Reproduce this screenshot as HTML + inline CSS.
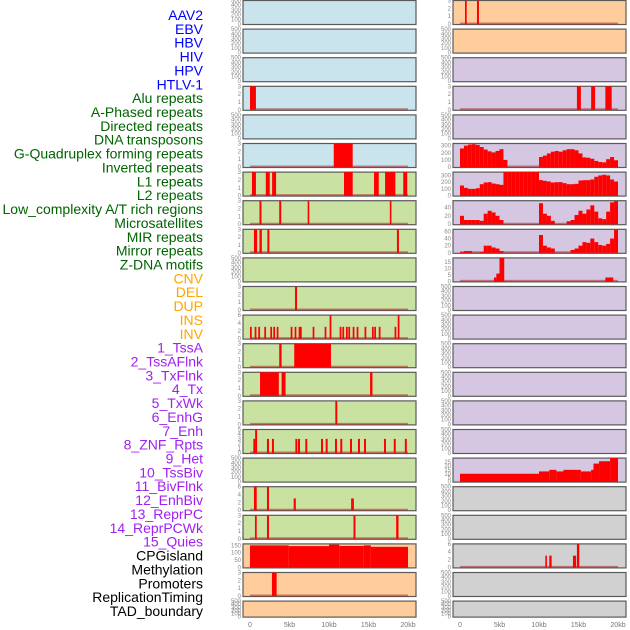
<!DOCTYPE html>
<html><head><meta charset="utf-8">
<style>
html,body{margin:0;padding:0;background:#fff;}
svg{display:block;font-family:"Liberation Sans",sans-serif;}
</style></head>
<body>
<svg id="chart" width="630" height="630" viewBox="0 0 630 630" xmlns="http://www.w3.org/2000/svg"></svg>
<script>
// ---- data (kb positions, heights) ----
const labels = ["AAV2","EBV","HBV","HIV","HPV","HTLV-1","Alu repeats","A-Phased repeats","Directed repeats","DNA transposons","G-Quadruplex forming repeats","Inverted repeats","L1 repeats","L2 repeats","Low_complexity A/T rich regions","Microsatellites","MIR repeats","Mirror repeats","Z-DNA motifs","CNV","DEL","DUP","INS","INV","1_TssA","2_TssAFlnk","3_TxFlnk","4_Tx","5_TxWk","6_EnhG","7_Enh","8_ZNF_Rpts","9_Het","10_TssBiv","11_BivFlnk","12_EnhBiv","13_ReprPC","14_ReprPCWk","15_Quies","CPGisland","Methylation","Promoters","ReplicationTiming","TAD_boundary"];
const labelColors = ["b","b","b","b","b","b","g","g","g","g","g","g","g","g","g","g","g","g","g","o","o","o","o","o","p","p","p","p","p","p","p","p","p","p","p","p","p","p","p","k","k","k","k","k"];
const xTicks = [0,5,10,15,20];
const xTickLabels = ["0","5kb","10kb","15kb","20kb"];

// left column bar tracks: [startKb, endKb, height]
const L_alu = [[0,0.75,3]];
const L_gquad = [[10.6,13.0,3]];
const L_l1 = [[0.25,0.75,3],[2.0,2.5,3],[2.8,3.3,3],[11.9,13.0,3],[15.7,16.3,3],[17.1,18.4,3],[19.4,19.9,3]];
const L_low = [[1.2,1.45,3],[3.7,3.95,3],[7.3,7.5,3],[17.7,17.9,3]];
const L_mir = [[0.5,0.9,3],[1.2,1.5,3],[2.2,2.45,3],[18.6,18.85,3]];
const L_del = [[5.7,5.95,3]];
const L_insPos = [0,0.59,1.05,1.81,2.57,2.95,3.38,5.15,5.65,6.16,6.33,7.93,9.45,10.08,11.35,11.69,12.15,12.45,13.0,13.5,14.5,15.44,15.73,16.3,18.3,18.7];
const L_insVal = [3,3,3,3,3,3,3,3,3,3,3,3,3,6,3,3,3,3,3,3,3,3,3,3,3,6];
const L_tss = [[3.7,4.0,3],[5.6,10.25,3]];
const L_txf = [[1.27,3.65,3],[4.0,4.5,3],[15.2,15.5,3]];
const L_txwk = [[10.8,11.05,3]];
const L_enhPos = [0.42,0.65,2.15,2.78,5.74,6.08,7.0,8.99,9.58,10.76,11.43,12.66,13.67,14.43,16.96,18.2,19.6];
const L_enhVal = [3,5,3,3,3,3,3,3,3,3,3,3,3,3,3,3,3];
const L_biv = [[0.5,0.85,6],[2.15,2.4,6],[5.53,5.8,3],[12.8,13.15,3]];
const L_repr = [[0.63,0.85,3],[2.15,2.4,3],[13.1,13.35,3],[18.5,18.8,3]];
const L_cpg = [[0,4.9,150],[4.9,10.0,145],[10.0,11.3,155],[11.3,14.4,146],[14.4,15.3,150],[15.3,20,140]];
const L_prom = [[2.78,3.37,3]];

// right column
const R_aav2 = [[0.63,0.85,3],[2.15,2.4,3]];
const R_alu = [[14.8,15.3,3],[16.6,17.1,3],[18.4,19.2,3]];
const R_gquad = [260,300,315,320,310,280,245,220,205,225,250,100,0,0,0,0,0,0,0,0,140,160,190,215,225,215,235,250,250,235,190,135,130,115,85,70,65,110,140,95];
const R_l1 = [150,115,100,100,110,170,195,200,180,170,160,350,350,350,350,350,350,350,350,350,230,220,210,195,200,200,185,170,170,175,225,230,230,240,280,300,310,300,240,210];
const R_low = [20,10,10,10,10,8,25,32,28,20,10,0,0,0,0,0,0,0,0,0,50,25,20,8,0,0,0,7,10,22,32,25,35,45,30,14,12,30,52,55];
const R_mir = [2,5,5,0,0,2,20,20,15,12,5,0,0,0,0,0,0,0,0,0,50,20,15,12,0,0,0,0,8,12,20,30,28,40,30,22,20,25,40,65];
const R_zdna = [[4.3,4.6,3],[4.6,5.0,6],[5.0,5.6,18],[18.4,19.4,3]];
const R_het = [[0,10,10],[10,11.3,13],[11.3,12.2,15],[12.2,13.1,13],[13.1,15.3,15],[15.3,16.6,13],[16.6,16.9,15],[16.9,17.6,23],[17.6,19,26],[19,20,30]];
const R_cpg = [[10.8,11.0,3],[11.3,11.6,3],[14.3,14.7,3],[14.8,15.1,6]];

const C = {blue:"#c9e4ec",green:"#c9e1a1",peach:"#ffcd9c",purple:"#d5c6e1",gray:"#d1d1d1"};
const E = "e";
const leftPanels = [
 [C.blue,E],[C.blue,E],[C.blue,E],
 [C.blue,"b",L_alu,3,[0,1,2,3]],[C.blue,E],
 [C.blue,"b",L_gquad,3,[0,1,2,3]],
 [C.green,"b",L_l1,3,[0,1,2,3]],
 [C.green,"b",L_low,3,[0,1,2,3]],
 [C.green,"b",L_mir,3,[0,1,2,3]],
 [C.green,E],
 [C.green,"b",L_del,3,[0,1,2,3]],
 [C.green,"s",[L_insPos,L_insVal,0.22],6,[0,2,4,6]],
 [C.green,"b",L_tss,3,[0,1,2,3]],
 [C.green,"b",L_txf,3,[0,1,2,3]],
 [C.green,"b",L_txwk,3,[0,1,2,3]],
 [C.green,"s",[L_enhPos,L_enhVal,0.25],5,[0,1,2,3,4,5]],
 [C.green,E],
 [C.green,"b",L_biv,6,[0,2,4,6]],
 [C.green,"b",L_repr,3,[0,1,2,3]],
 [C.peach,"b",L_cpg,160,[0,50,100,150]],
 [C.peach,"b",L_prom,3,[0,1,2,3]],
 [C.peach,E]
];
const rightPanels = [
 [C.peach,"b",R_aav2,3,[0,1,2,3]],[C.peach,E],
 [C.purple,E],[C.purple,"b",R_alu,3,[0,1,2,3]],[C.purple,E],
 [C.purple,"p",R_gquad,330,[0,100,200,300]],
 [C.purple,"p",R_l1,350,[0,100,200,300]],
 [C.purple,"p",R_low,56,[0,20,40]],
 [C.purple,"p",R_mir,66,[0,20,40,60]],
 [C.purple,"b",R_zdna,18,[0,5,10,15]],
 [C.purple,E],[C.purple,E],[C.purple,E],[C.purple,E],[C.purple,E],[C.purple,E],
 [C.purple,"b",R_het,30,[0,5,10,15,20,25]],
 [C.gray,E],[C.gray,E],
 [C.gray,"b",R_cpg,6,[0,2,4,6]],
 [C.gray,E],[C.gray,E]
];

const svg = document.getElementById('chart');
const NS = "http://www.w3.org/2000/svg";
function mk(tag, attrs, parent){const e=document.createElementNS(NS,tag);for(const k in attrs)e.setAttribute(k,attrs[k]);(parent||svg).appendChild(e);return e;}
const lc = {b:"#0000ff",g:"#006400",o:"#ffa500",p:"#a020f0",k:"#000000"};

labels.forEach((t,i)=>{
  const el = mk('text',{x:203,y:15+i*13.86+5,'text-anchor':'end','font-size':'14',fill:lc[labelColors[i]]});
  el.textContent = t;
  
  
});

function drawCol(panels, px, x0){
  const sx = kb => x0 + kb*7.9;
  panels.forEach((p,i)=>{
    const top = i*28.6, h = (i===21)?16:24, bot = top+h;
    const g = mk('g',{});
    
    
    mk('rect',{x:px,y:top+0.5,width:173,height:h,fill:p[0],stroke:"#5a5a5a",'stroke-width':1.2},g);
    let ymax=500, ticks=[0,100,200,300,400,500];
    if(p[1]!=="e"){ymax=p[3];ticks=p[4];}
    const sy = v => bot - v/ymax*(h-0.5);
    ticks.forEach(v=>{
      const t = mk('text',{x:px-2,y:sy(v)+2,'text-anchor':'end','font-size':'6',fill:"#888"},g);
      t.textContent = v;
      
      
    });
    if(p[1]==="e") return;
    mk('line',{x1:sx(0),x2:sx(20),y1:bot-0.5,y2:bot-0.5,stroke:"rgba(170,40,40,0.55)",'stroke-width':2},g);
    const bar=(a,b,v)=>{
      const r = mk('rect',{x:sx(a),y:sy(v),width:Math.max(1.5,sx(b)-sx(a)),height:bot-sy(v),fill:"#ff0000"},g);
      
      
    };
    if(p[1]==="b") p[2].forEach(d=>bar(d[0],d[1],d[2]));
    else if(p[1]==="s"){const [pos,val,w]=p[2];pos.forEach((k,j)=>bar(k,k+w,val[j]));}
    else if(p[1]==="p") p[2].forEach((v,j)=>{ if(v>0) bar(j*0.5,j*0.5+0.5,v); });
  });
  xTicks.forEach((k,j)=>{
    const t = mk('text',{x:sx(k),y:627,'text-anchor':'middle','font-size':'7',fill:"#777"});
    t.textContent = xTickLabels[j];
    
    
  });
}
drawCol(leftPanels, 243, 250);
drawCol(rightPanels, 453, 460);
</script>
</body></html>
